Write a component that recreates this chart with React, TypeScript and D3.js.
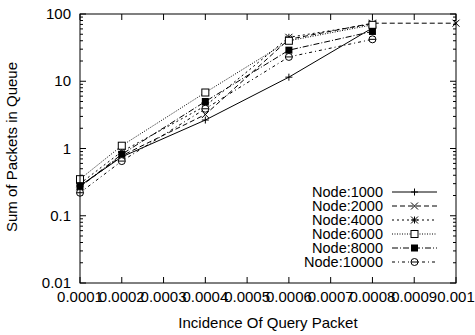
import React from "react";
import * as d3 from "d3";

const xValues = [0.0001, 0.0002, 0.0004, 0.0006, 0.0008];
const xValues2000 = [0.0001, 0.0002, 0.0004, 0.0006, 0.0008, 0.001];
const node1000 = [0.28, 0.75, 2.65, 11.5, 62];
const node2000 = [0.27, 0.78, 3.2, 42, 73, 73];
const node4000 = [0.3, 0.9, 4.3, 45, 71];
const node6000 = [0.35, 1.1, 6.8, 40, 69];
const node8000 = [0.27, 0.82, 5.0, 29, 55];
const node10000 = [0.22, 0.65, 3.9, 23, 42];
const xTicks = [0.0001, 0.0002, 0.0003, 0.0004, 0.0005, 0.0006, 0.0007, 0.0008, 0.0009, 0.001];
const xTickLabels = ["0.0001", "0.0002", "0.0003", "0.0004", "0.0005", "0.0006", "0.0007", "0.0008", "0.0009", "0.001"];
const yTicks = [0.01, 0.1, 1, 10, 100];
const yTickLabels = ["0.01", "0.1", "1", "10", "100"];

type Series = { name: string; xs: number[]; ys: number[]; dash: string; marker: string };
const series: Series[] = [
  { name: "Node:1000", xs: xValues, ys: node1000, dash: "none", marker: "plus" },
  { name: "Node:2000", xs: xValues2000, ys: node2000, dash: "5,3", marker: "cross" },
  { name: "Node:4000", xs: xValues, ys: node4000, dash: "2,3", marker: "star" },
  { name: "Node:6000", xs: xValues, ys: node6000, dash: "1,1.5", marker: "square" },
  { name: "Node:8000", xs: xValues, ys: node8000, dash: "6,2,1,2", marker: "fsquare" },
  { name: "Node:10000", xs: xValues, ys: node10000, dash: "3,3,1,3", marker: "circle" },
];

const FONT = "'Liberation Sans', Arial, Helvetica, sans-serif";

function Marker({ type, x, y }: { type: string; x: number; y: number }) {
  const s = 3.5;
  const st = { stroke: "#000", strokeWidth: 1, fill: "none" };
  if (type === "plus")
    return <path d={`M${x - s},${y}H${x + s}M${x},${y - s}V${y + s}`} {...st} />;
  if (type === "cross")
    return <path d={`M${x - s},${y - s}L${x + s},${y + s}M${x - s},${y + s}L${x + s},${y - s}`} {...st} />;
  if (type === "star")
    return (
      <path
        d={`M${x - s},${y}H${x + s}M${x},${y - s}V${y + s}M${x - s},${y - s}L${x + s},${y + s}M${x - s},${y + s}L${x + s},${y - s}`}
        {...st}
      />
    );
  if (type === "square") return <rect x={x - s} y={y - s} width={2 * s} height={2 * s} {...st} fill="#fff" />;
  if (type === "fsquare") return <rect x={x - s} y={y - s} width={2 * s} height={2 * s} fill="#000" />;
  return (
    <g>
      <circle cx={x} cy={y} r={s} {...st} fill="#fff" />
      <line x1={x - s} x2={x + s} y1={y} y2={y} stroke="#000" />
    </g>
  );
}

export default function App() {
  const W = 475, H = 335;
  const left = 80, right = 456, top = 14, bottom = 283;
  const x = d3.scaleLinear().domain([0.0001, 0.001]).range([left, right]);
  const y = d3.scaleLog().domain([0.01, 100]).range([bottom, top]);
  const line = d3
    .line<[number, number]>()
    .x((d) => x(d[0]))
    .y((d) => y(d[1]));

  const minor: number[] = [];
  for (let e = -2; e < 2; e++) for (let k = 2; k <= 9; k++) minor.push(k * Math.pow(10, e));

  const legX1 = 392, legX2 = 437, legTextX = 383, legY0 = 192, legDY = 14;

  return (
    <svg width={W} height={H} style={{ position: "absolute", left: 0, top: 0, background: "#fff" }} fontFamily={FONT}>
      <rect x={0} y={0} width={W} height={H} fill="#fff" />
      {xTicks.map((t, i) => (
        <g key={"xt" + i}>
          <line x1={x(t)} x2={x(t)} y1={bottom} y2={bottom - 6} stroke="#000" />
          <line x1={x(t)} x2={x(t)} y1={top} y2={top + 6} stroke="#000" />
          <text x={x(t)} y={bottom + 19} fontSize={15} textAnchor="middle" fill="#000">
            {xTickLabels[i]}
          </text>
        </g>
      ))}
      {yTicks.map((t, i) => (
        <g key={"yt" + i}>
          <line x1={left} x2={left + 6} y1={y(t)} y2={y(t)} stroke="#000" />
          <line x1={right} x2={right - 6} y1={y(t)} y2={y(t)} stroke="#000" />
          <text x={71} y={y(t) + 5} fontSize={15} textAnchor="end" fill="#000">
            {yTickLabels[i]}
          </text>
        </g>
      ))}
      {minor.map((t, i) => (
        <g key={"ym" + i}>
          <line x1={left} x2={left + 3} y1={y(t)} y2={y(t)} stroke="#000" />
          <line x1={right} x2={right - 3} y1={y(t)} y2={y(t)} stroke="#000" />
        </g>
      ))}
      {series.map((s) => {
        const pts = s.xs.map((v, i) => [v, s.ys[i]] as [number, number]);
        return (
          <g key={s.name}>
            <path d={line(pts) || ""} fill="none" stroke="#000" strokeWidth={1} strokeDasharray={s.dash} />
            {pts.map((p, i) => (
              <Marker key={i} type={s.marker} x={x(p[0])} y={y(p[1])} />
            ))}
          </g>
        );
      })}
      <rect x={left} y={top} width={right - left} height={bottom - top} fill="none" stroke="#000" strokeWidth={1} />
      {series.map((s, i) => {
        const ly = legY0 + i * legDY;
        return (
          <g key={"lg" + i}>
            <text x={legTextX} y={ly + 5} fontSize={14.5} textAnchor="end" fill="#000">
              {s.name}
            </text>
            <line x1={legX1} x2={legX2} y1={ly} y2={ly} stroke="#000" strokeDasharray={s.dash} />
            <Marker type={s.marker} x={(legX1 + legX2) / 2} y={ly} />
          </g>
        );
      })}
      <text x={268} y={328} fontSize={15} textAnchor="middle" fill="#000">
        Incidence Of Query Packet
      </text>
      <text transform={`translate(17,147) rotate(-90)`} fontSize={15} textAnchor="middle" fill="#000">
        Sum of Packets in Queue
      </text>
    </svg>
  );
}
